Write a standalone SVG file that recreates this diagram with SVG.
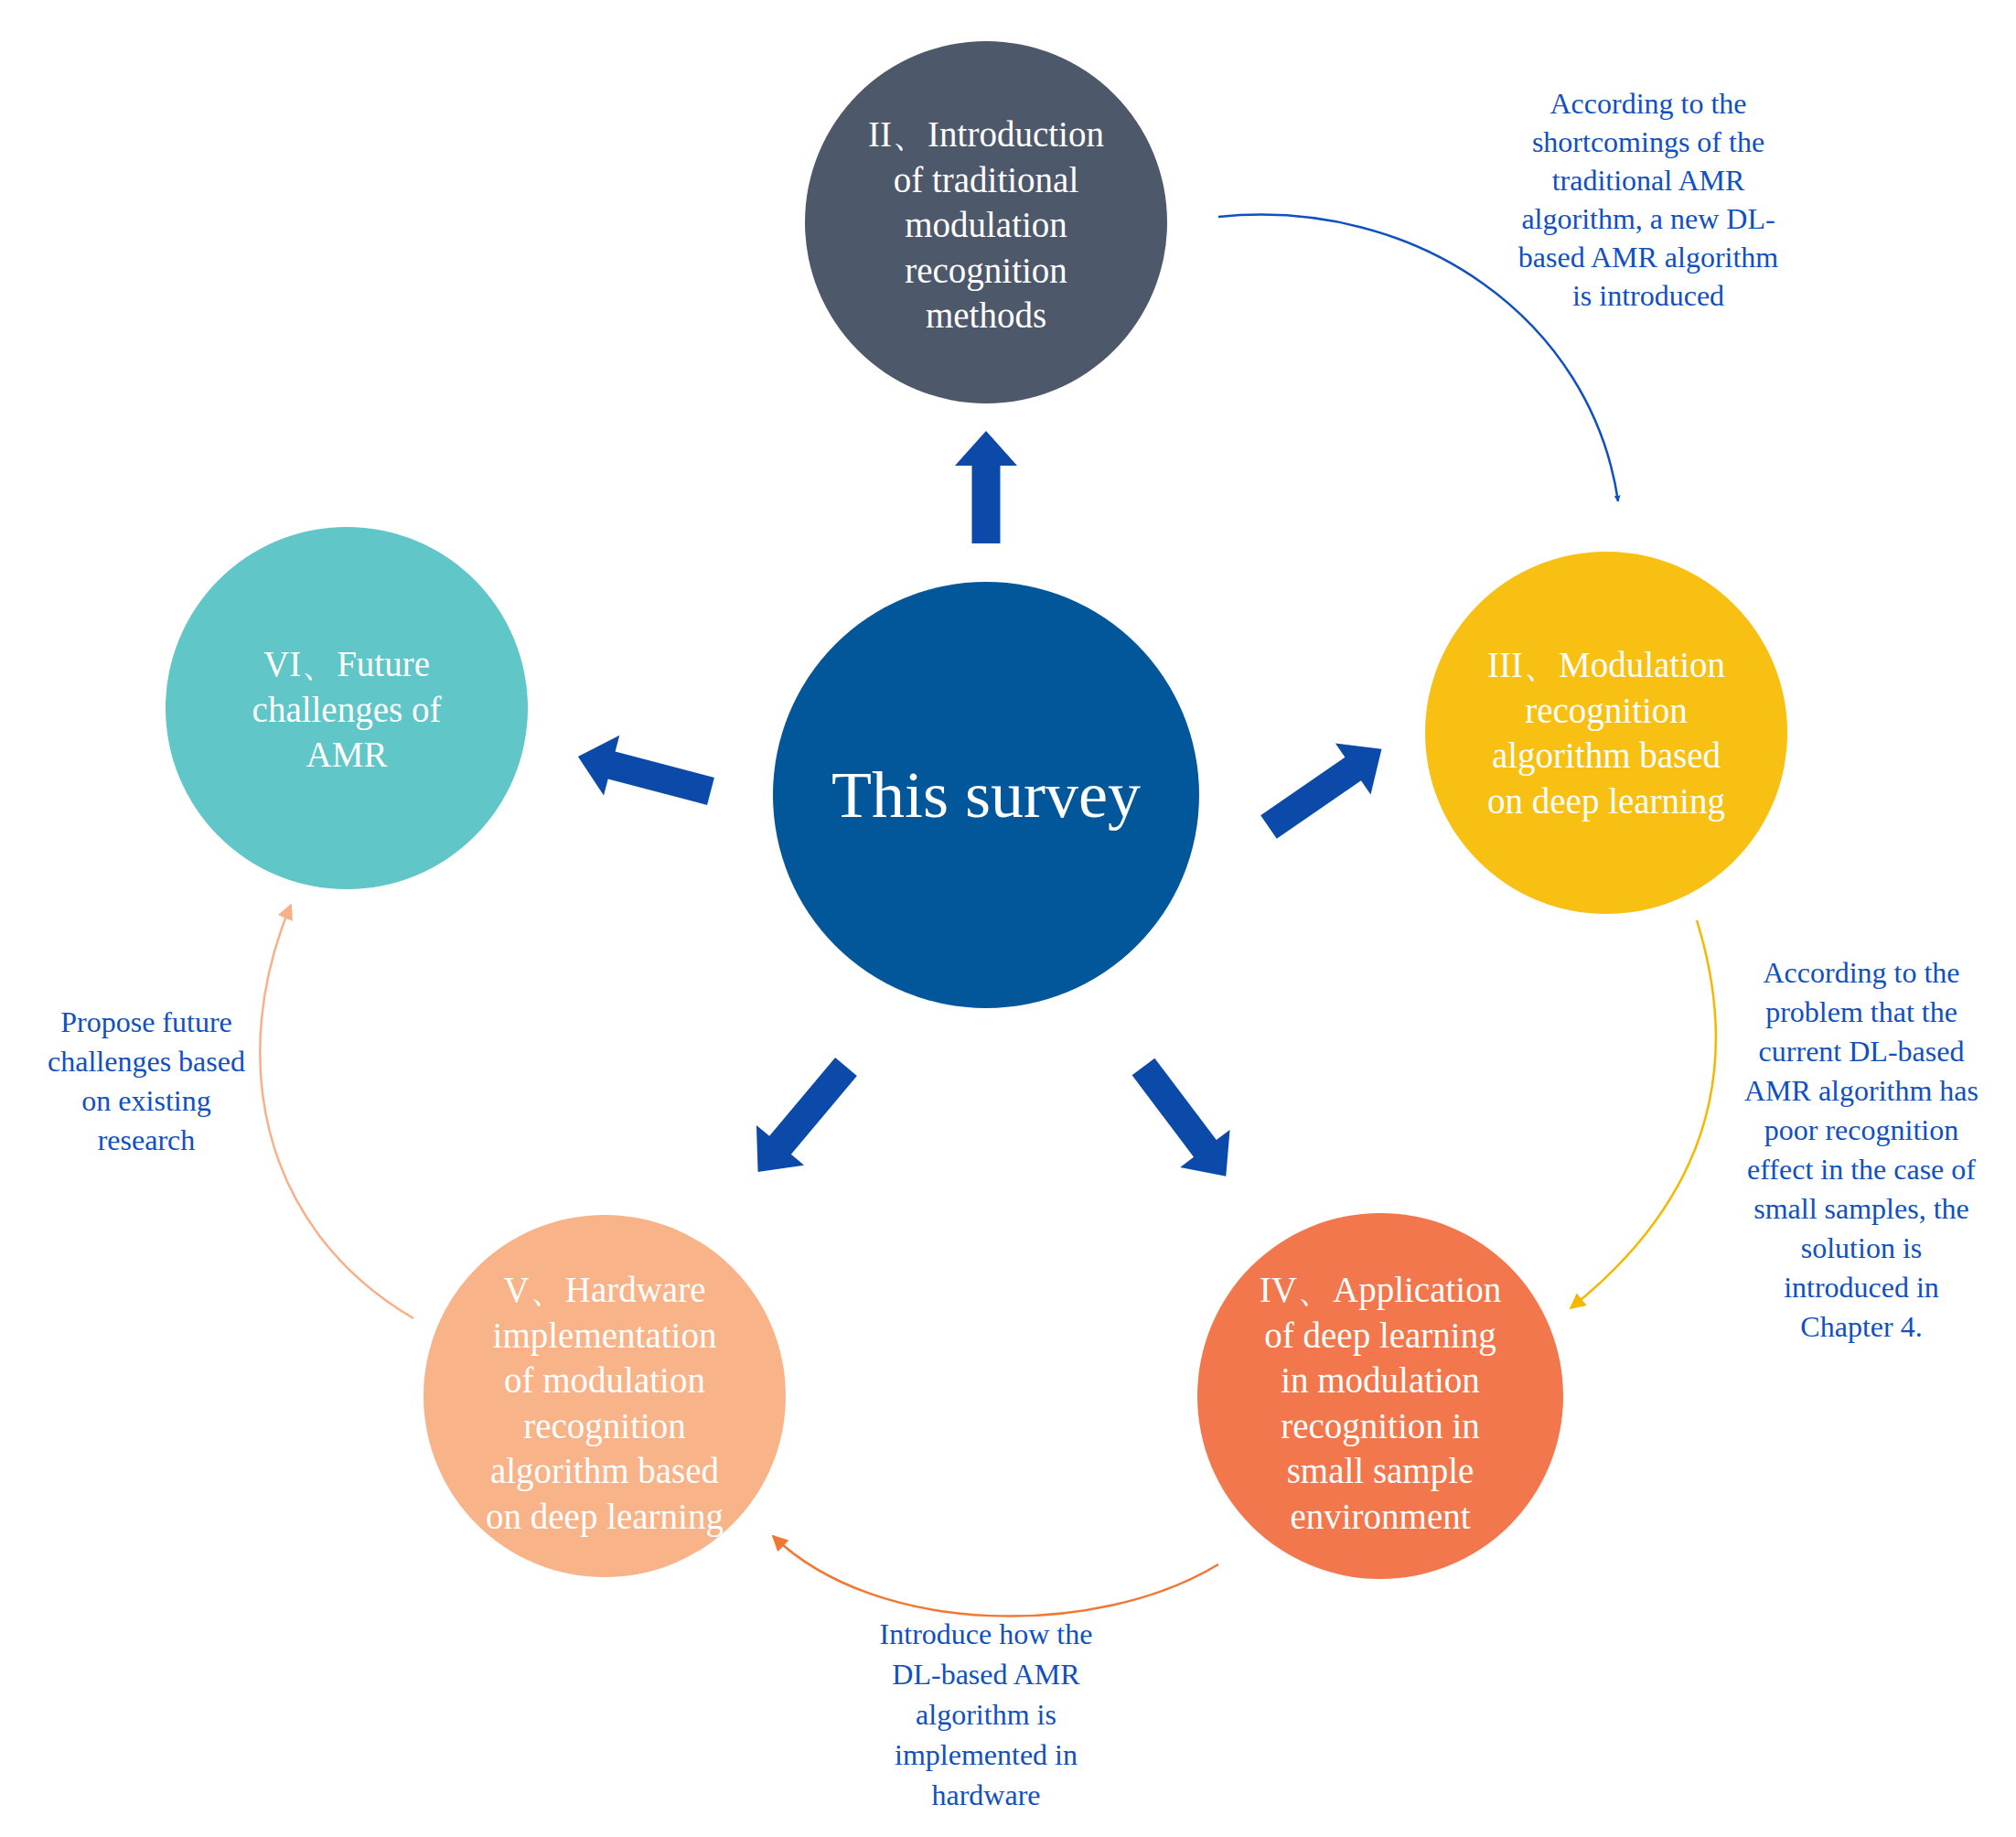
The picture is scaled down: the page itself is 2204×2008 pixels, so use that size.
<svg xmlns="http://www.w3.org/2000/svg" width="2204" height="2008" viewBox="0 0 2204 2008">
<style>
.n{font-family:"Liberation Serif","DejaVu Serif",serif;font-size:39px;fill:#fff;text-anchor:middle}
.l{font-family:"Liberation Serif","DejaVu Serif",serif;font-size:32px;fill:#1050c0;text-anchor:middle}
.b{fill:#0b4aa8}
.c{fill:none;stroke-width:2.5}
</style>
<defs>
<path id="ba" d="M0,-15.5 L112,-15.5 L112,-34 L150,0 L112,34 L112,15.5 L0,15.5Z"/>
<marker id="mb" viewBox="0 0 10 10" refX="9" refY="5" markerWidth="7" markerHeight="7" orient="auto" markerUnits="userSpaceOnUse"><path d="M0,0L10,5L0,10Z" fill="#1050c0"/></marker>
<marker id="my" viewBox="0 0 10 10" refX="9" refY="5" markerWidth="7" markerHeight="7" orient="auto"><path d="M0,0L10,5L0,10Z" fill="#f5b800"/></marker>
<marker id="mo" viewBox="0 0 10 10" refX="9" refY="5" markerWidth="7" markerHeight="7" orient="auto"><path d="M0,0L10,5L0,10Z" fill="#f07830"/></marker>
<marker id="ms" viewBox="0 0 10 10" refX="9" refY="5" markerWidth="7" markerHeight="7" orient="auto"><path d="M0,0L10,5L0,10Z" fill="#f8b088"/></marker>
</defs>
<rect width="2204" height="2008" fill="#fff"/>
<g id="connectors">
<path class="b" d="M1062.5,594 L1062.5,509 L1044,509 L1078,471 L1112,509 L1093.5,509 L1093.5,594Z"/>
<use href="#ba" class="b" transform="translate(1387,904) rotate(-34.6)"/>
<use href="#ba" class="b" transform="translate(777,865) rotate(194.7)"/>
<use href="#ba" class="b" transform="translate(925,1166) rotate(130)"/>
<use href="#ba" class="b" transform="translate(1250,1166) rotate(53)"/>
<path class="c" stroke="#1050c0" d="M1332,237 C1550,215 1740,350 1769,548" marker-end="url(#mb)" style="stroke-width:2.5"/>
<path class="c" stroke="#f5b800" d="M1855,1006 C1900,1150 1880,1300 1717,1430" marker-end="url(#my)"/>
<path class="c" stroke="#f07830" d="M1332,1710 C1200,1790 960,1790 845,1679" marker-end="url(#mo)"/>
<path class="c" stroke="#f8b088" d="M452,1441 C280,1340 250,1150 318,989" marker-end="url(#ms)"/>
<text class="l"><tspan x="1802" y="124">According to the</tspan><tspan x="1802" y="166">shortcomings of the</tspan><tspan x="1802" y="208">traditional AMR</tspan><tspan x="1802" y="250">algorithm, a new DL-</tspan><tspan x="1802" y="292">based AMR algorithm</tspan><tspan x="1802" y="334">is introduced</tspan></text>
<text class="l"><tspan x="2035" y="1074">According to the</tspan><tspan x="2035" y="1117">problem that the</tspan><tspan x="2035" y="1160">current DL-based</tspan><tspan x="2035" y="1203">AMR algorithm has</tspan><tspan x="2035" y="1246">poor recognition</tspan><tspan x="2035" y="1289">effect in the case of</tspan><tspan x="2035" y="1332">small samples, the</tspan><tspan x="2035" y="1375">solution is</tspan><tspan x="2035" y="1418">introduced in</tspan><tspan x="2035" y="1461">Chapter 4.</tspan></text>
<text class="l"><tspan x="1078" y="1797">Introduce how the</tspan><tspan x="1078" y="1841">DL-based AMR</tspan><tspan x="1078" y="1885">algorithm is</tspan><tspan x="1078" y="1929">implemented in</tspan><tspan x="1078" y="1973">hardware</tspan></text>
<text class="l"><tspan x="160" y="1128">Propose future</tspan><tspan x="160" y="1171">challenges based</tspan><tspan x="160" y="1214">on existing</tspan><tspan x="160" y="1257">research</tspan></text>
</g>
<g id="center"><circle cx="1078" cy="869" r="233" fill="#02569a"/><text class="n" x="1078" y="893" style="font-size:72px">This survey</text></g>
<g id="n2"><circle cx="1078" cy="243" r="198" fill="#4e586b"/><text class="n"><tspan x="1078" y="160">II、Introduction</tspan><tspan x="1078" y="210">of traditional</tspan><tspan x="1078" y="259">modulation</tspan><tspan x="1078" y="309">recognition</tspan><tspan x="1078" y="358">methods</tspan></text></g>
<g id="n3"><circle cx="1756" cy="801" r="198" fill="#f8c013"/><text class="n"><tspan x="1756" y="740">III、Modulation</tspan><tspan x="1756" y="790">recognition</tspan><tspan x="1756" y="839">algorithm based</tspan><tspan x="1756" y="889">on deep learning</tspan></text></g>
<g id="n4"><circle cx="1509" cy="1526" r="200" fill="#f3774c"/><text class="n"><tspan x="1509" y="1423">IV、Application</tspan><tspan x="1509" y="1473">of deep learning</tspan><tspan x="1509" y="1522">in modulation</tspan><tspan x="1509" y="1572">recognition in</tspan><tspan x="1509" y="1621">small sample</tspan><tspan x="1509" y="1671">environment</tspan></text></g>
<g id="n5"><circle cx="661" cy="1526" r="198" fill="#f9b389"/><text class="n"><tspan x="661" y="1423">V、Hardware</tspan><tspan x="661" y="1473">implementation</tspan><tspan x="661" y="1522">of modulation</tspan><tspan x="661" y="1572">recognition</tspan><tspan x="661" y="1621">algorithm based</tspan><tspan x="661" y="1671">on deep learning</tspan></text></g>
<g id="n6"><circle cx="379" cy="774" r="198" fill="#60c6c8"/><text class="n"><tspan x="379" y="739">VI、Future</tspan><tspan x="379" y="789">challenges of</tspan><tspan x="379" y="838">AMR</tspan></text></g>
</svg>
